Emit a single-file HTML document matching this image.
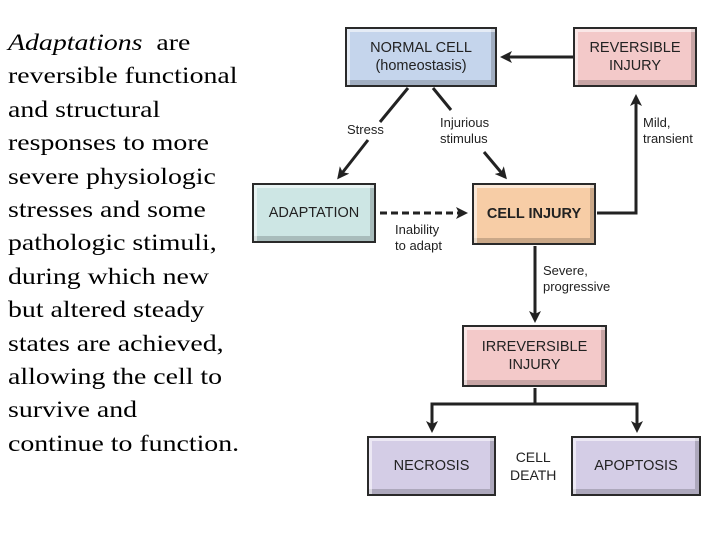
<!DOCTYPE html>
<html><head><style>
body{margin:0;width:720px;height:540px;background:#fff;position:relative;overflow:hidden;font-family:"Liberation Sans",sans-serif}
.t{position:absolute;left:8px;top:26px;font-family:"Liberation Serif",serif;font-size:23px;line-height:33.4px;color:#000;white-space:pre;transform:scaleX(1.21);transform-origin:0 0}
.b{position:absolute;box-sizing:border-box;border:2px solid #2a2a2a;display:flex;align-items:center;justify-content:center;text-align:center;font-size:14.5px;line-height:18px;color:#222;box-shadow:inset 3px 3px 0 rgba(255,255,255,.55),inset -4px -5px 0 rgba(0,0,0,.18)}
.l{position:absolute;font-size:13px;line-height:16px;color:#222}
</style></head><body>
<div class="t"><i>Adaptations </i> are
reversible functional
and structural
responses to more
severe physiologic
stresses and some
pathologic stimuli,
during which new
but altered steady
states are achieved,
allowing the cell to
survive and
continue to function.</div>
<svg width="720" height="540" style="position:absolute;left:0;top:0">
<defs><marker id="a" markerWidth="12" markerHeight="12" refX="9" refY="6" orient="auto" markerUnits="userSpaceOnUse"><path d="M0,0 L12,6 L0,12 L3,6z" fill="#222"/></marker></defs>
<g stroke="#222" stroke-width="3" fill="none">
<line x1="573" y1="57" x2="503" y2="57" marker-end="url(#a)"/>
<line x1="408" y1="88" x2="380" y2="122"/>
<line x1="368" y1="140" x2="339" y2="177" marker-end="url(#a)"/>
<line x1="433" y1="88" x2="451" y2="110"/>
<line x1="484" y1="152" x2="505" y2="177" marker-end="url(#a)"/>
<polyline points="597,213 636,213 636,97" marker-end="url(#a)"/>
<line x1="380" y1="213" x2="465" y2="213" stroke-dasharray="7,4" marker-end="url(#a)"/>
<line x1="535" y1="246" x2="535" y2="320" marker-end="url(#a)"/>
<polyline points="535,388 535,404 432,404 432,430" marker-end="url(#a)"/>
<polyline points="535,404 637,404 637,430" marker-end="url(#a)"/>
</g></svg>
<div class="b" style="left:345px;top:27px;width:152px;height:60px;background:#c5d5ec">NORMAL CELL<br>(homeostasis)</div>
<div class="b" style="left:573px;top:27px;width:124px;height:60px;background:#f3c9c9">REVERSIBLE<br>INJURY</div>
<div class="b" style="left:252px;top:183px;width:124px;height:60px;background:#cde6e4">ADAPTATION</div>
<div class="b" style="left:472px;top:183px;width:124px;height:62px;background:#f7cda6;font-weight:bold">CELL INJURY</div>
<div class="b" style="left:462px;top:325px;width:145px;height:62px;background:#f3c9c9">IRREVERSIBLE<br>INJURY</div>
<div class="b" style="left:367px;top:436px;width:129px;height:60px;background:#d4cde6">NECROSIS</div>
<div class="b" style="left:571px;top:436px;width:130px;height:60px;background:#d4cde6">APOPTOSIS</div>
<div class="l" style="left:347px;top:122px">Stress</div>
<div class="l" style="left:440px;top:115px">Injurious<br>stimulus</div>
<div class="l" style="left:643px;top:115px">Mild,<br>transient</div>
<div class="l" style="left:395px;top:222px">Inability<br>to adapt</div>
<div class="l" style="left:543px;top:263px">Severe,<br>progressive</div>
<div class="l" style="left:510px;top:448px;text-align:center;font-size:14px;line-height:18px">CELL<br>DEATH</div>
</body></html>
